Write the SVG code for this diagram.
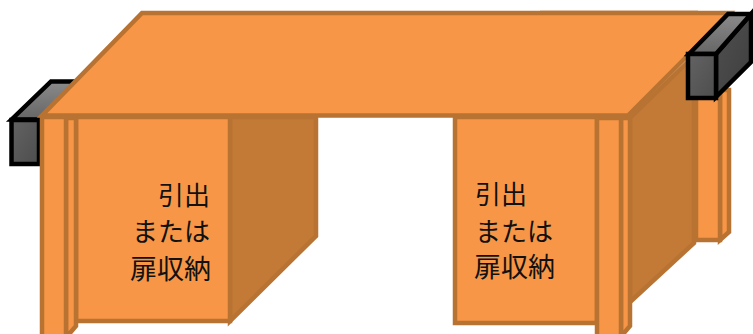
<svg xmlns="http://www.w3.org/2000/svg" width="753" height="334" viewBox="0 0 753 334">
<defs>
<linearGradient id="gt" x1="0" y1="0" x2="0" y2="1"><stop offset="0" stop-color="#8a8a8a"/><stop offset="1" stop-color="#666"/></linearGradient>
<linearGradient id="gf" x1="0" y1="0" x2="1" y2="1"><stop offset="0" stop-color="#636363"/><stop offset="1" stop-color="#4d4d4d"/></linearGradient>
<linearGradient id="gs" x1="0" y1="0" x2="1" y2="1"><stop offset="0" stop-color="#505050"/><stop offset="1" stop-color="#3e3e3e"/></linearGradient>
</defs>
<style>
.o{fill:#f79646;stroke:#b87333;stroke-width:4.500}
.d{fill:#c27a36;stroke:#b87333;stroke-width:4.500}
.b{stroke:#000;stroke-width:4.500;stroke-linejoin:miter}
text{font-family:"Noto Sans CJK JP","Noto Sans CJK SC",sans-serif;font-size:26px;fill:#111}
.w{font-size:27px}
</style>
<g id="left-bracket">
<path class="b" fill="url(#gt)" d="M11.500 119.500L51 81.500H80L42 119.500Z"/>
<rect class="b" fill="url(#gf)" x="11.500" y="120" width="27.500" height="44"/>
</g>
<rect x="540" y="10" width="158" height="1.500" fill="#e8d8c8"/>
<g id="rear-leg">
<path class="o" d="M720 90H729V232L720 240Z"/>
<rect class="o" x="696" y="60" width="24" height="180"/>
</g>
<g id="right-side">
<path class="d" d="M630 118L694 56V243L630 302Z"/>
</g>
<g id="left-side">
<path class="d" d="M230 117H316V236L230 321Z"/>
</g>
<g id="left-panel">
<rect class="o" x="76" y="117" width="154" height="204"/>
<text x="210" y="205" text-anchor="end">引出</text>
<text x="210" y="241" text-anchor="end">または</text>
<text class="w" x="211" y="279" text-anchor="end">扉収納</text>
</g>
<g id="right-panel">
<rect class="o" x="455" y="117" width="142" height="206"/>
<text x="475" y="204">引出</text>
<text x="475" y="241">または</text>
<text class="w" x="474" y="277">扉収納</text>
</g>
<g id="left-leg">
<path class="o" d="M66 118H76V326L70 333H66Z"/>
<rect class="o" x="42" y="117" width="24" height="220"/>
</g>
<g id="right-leg">
<path class="o" d="M621 118H630V326L624 333H621Z"/>
<rect class="o" x="597" y="118" width="24" height="219"/>
</g>
<g id="table-top">
<path class="o" d="M142 13H730L628 115.500H42Z"/>
</g>
<g id="right-bracket">
<path class="b" fill="url(#gs)" d="M716 97L751 62V14L716 54Z"/>
<path class="b" fill="url(#gt)" d="M689 54L728 14H751L716 54Z"/>
<rect class="b" fill="url(#gf)" x="688" y="54" width="28" height="44"/>
</g>
</svg>
